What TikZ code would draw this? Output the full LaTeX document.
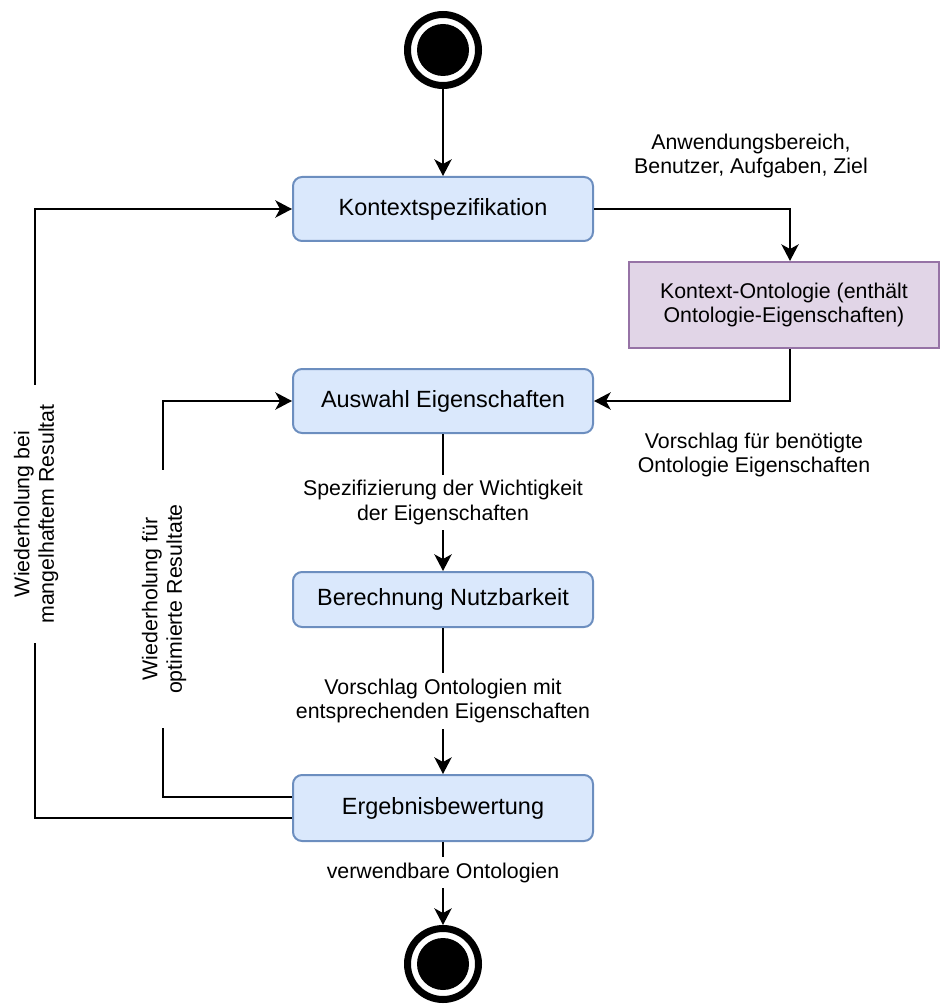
\documentclass[tikz,border=0pt]{standalone}
\usepackage{fontspec}
\setmainfont{Liberation Sans}
\usetikzlibrary{arrows.meta}
\definecolor{bfill}{HTML}{DAE8FC}
\definecolor{bline}{HTML}{6C8EBF}
\definecolor{pfill}{HTML}{E1D5E7}
\definecolor{pline}{HTML}{9673A6}
\begin{document}
\begin{tikzpicture}[x=0.75pt,y=-0.75pt,
  box/.style={draw=bline, fill=bfill, line width=1.5pt, rounded corners=6.75pt, minimum width=225pt, inner sep=0pt, font=\fontsize{17.6}{21}\selectfont},
  lbl/.style={font=\fontsize{16}{18.4}\selectfont, align=center, inner sep=0pt},
  elbl/.style={lbl, fill=white, inner ysep=4pt, inner xsep=2pt},
  rlbl/.style={lbl, fill=white, rotate=90, minimum width=193.5pt, inner ysep=2pt},
  conn/.style={line width=1.5pt, -{Stealth[length=12.5pt,width=13pt,inset=3.5pt]}},
  plainln/.style={line width=1.5pt},
  ring/.style={circle, draw=black, line width=5.25pt, minimum size=53.25pt, inner sep=0pt, fill=white},
  ontobox/.style={draw=pline, fill=pfill, line width=1.5pt, minimum width=232.5pt, minimum height=64.5pt, lbl}
]
\useasboundingbox (0,0) rectangle (940,1005);

\node[ring] (start) at (443,50) {};
\fill (start.center) circle (19.5pt);
\node[box, minimum height=48pt] (kon) at (443,209) {Kontextspezifikation};
\node[ontobox] (onto) at (784,305) {Kontext-Ontologie (enthält\\Ontologie-Eigenschaften)};
\node[box, minimum height=48pt] (aus) at (443,401) {Auswahl Eigenschaften};
\node[box, minimum height=41.25pt] (ber) at (443,599.5) {Berechnung Nutzbarkeit};
\node[box, minimum height=49.5pt] (erg) at (443,808) {Ergebnisbewertung};
\node[ring] (end) at (443,964) {};
\fill (end.center) circle (19.5pt);

\draw[conn] (start) -- (kon);
\draw[conn] (kon.east) -| ([xshift=4.5pt]onto.north);
\draw[conn] ([xshift=4.5pt]onto.south) |- (aus.east);
\draw[conn] (aus) -- node[elbl]{Spezifizierung der Wichtigkeit\\der Eigenschaften} (ber);
\draw[conn] (ber) -- node[elbl]{Vorschlag Ontologien mit\\entsprechenden Eigenschaften} (erg);
\draw[conn] (erg) -- node[elbl, pos=0.37]{verwendbare Ontologien} (end);

\draw[conn] ([yshift=-7.5pt]erg.west) -- ++(-257,0) |- (kon.west);
\draw[conn] ([yshift=8.25pt]erg.west) -- ++(-129,0) |- (aus.west);
\node[rlbl] (r1) at (36,514) {Wiederholung bei\\mangelhaftem Resultat};
\node[rlbl] (r2) at (164,599) {Wiederholung für\\optimierte Resultate};

\node[lbl] (l1) at (751,156) {Anwendungsbereich,\\Benutzer, Aufgaben, Ziel};
\node[lbl] (l2) at (754,455) {Vorschlag für benötigte\\Ontologie Eigenschaften};
\end{tikzpicture}
\end{document}
